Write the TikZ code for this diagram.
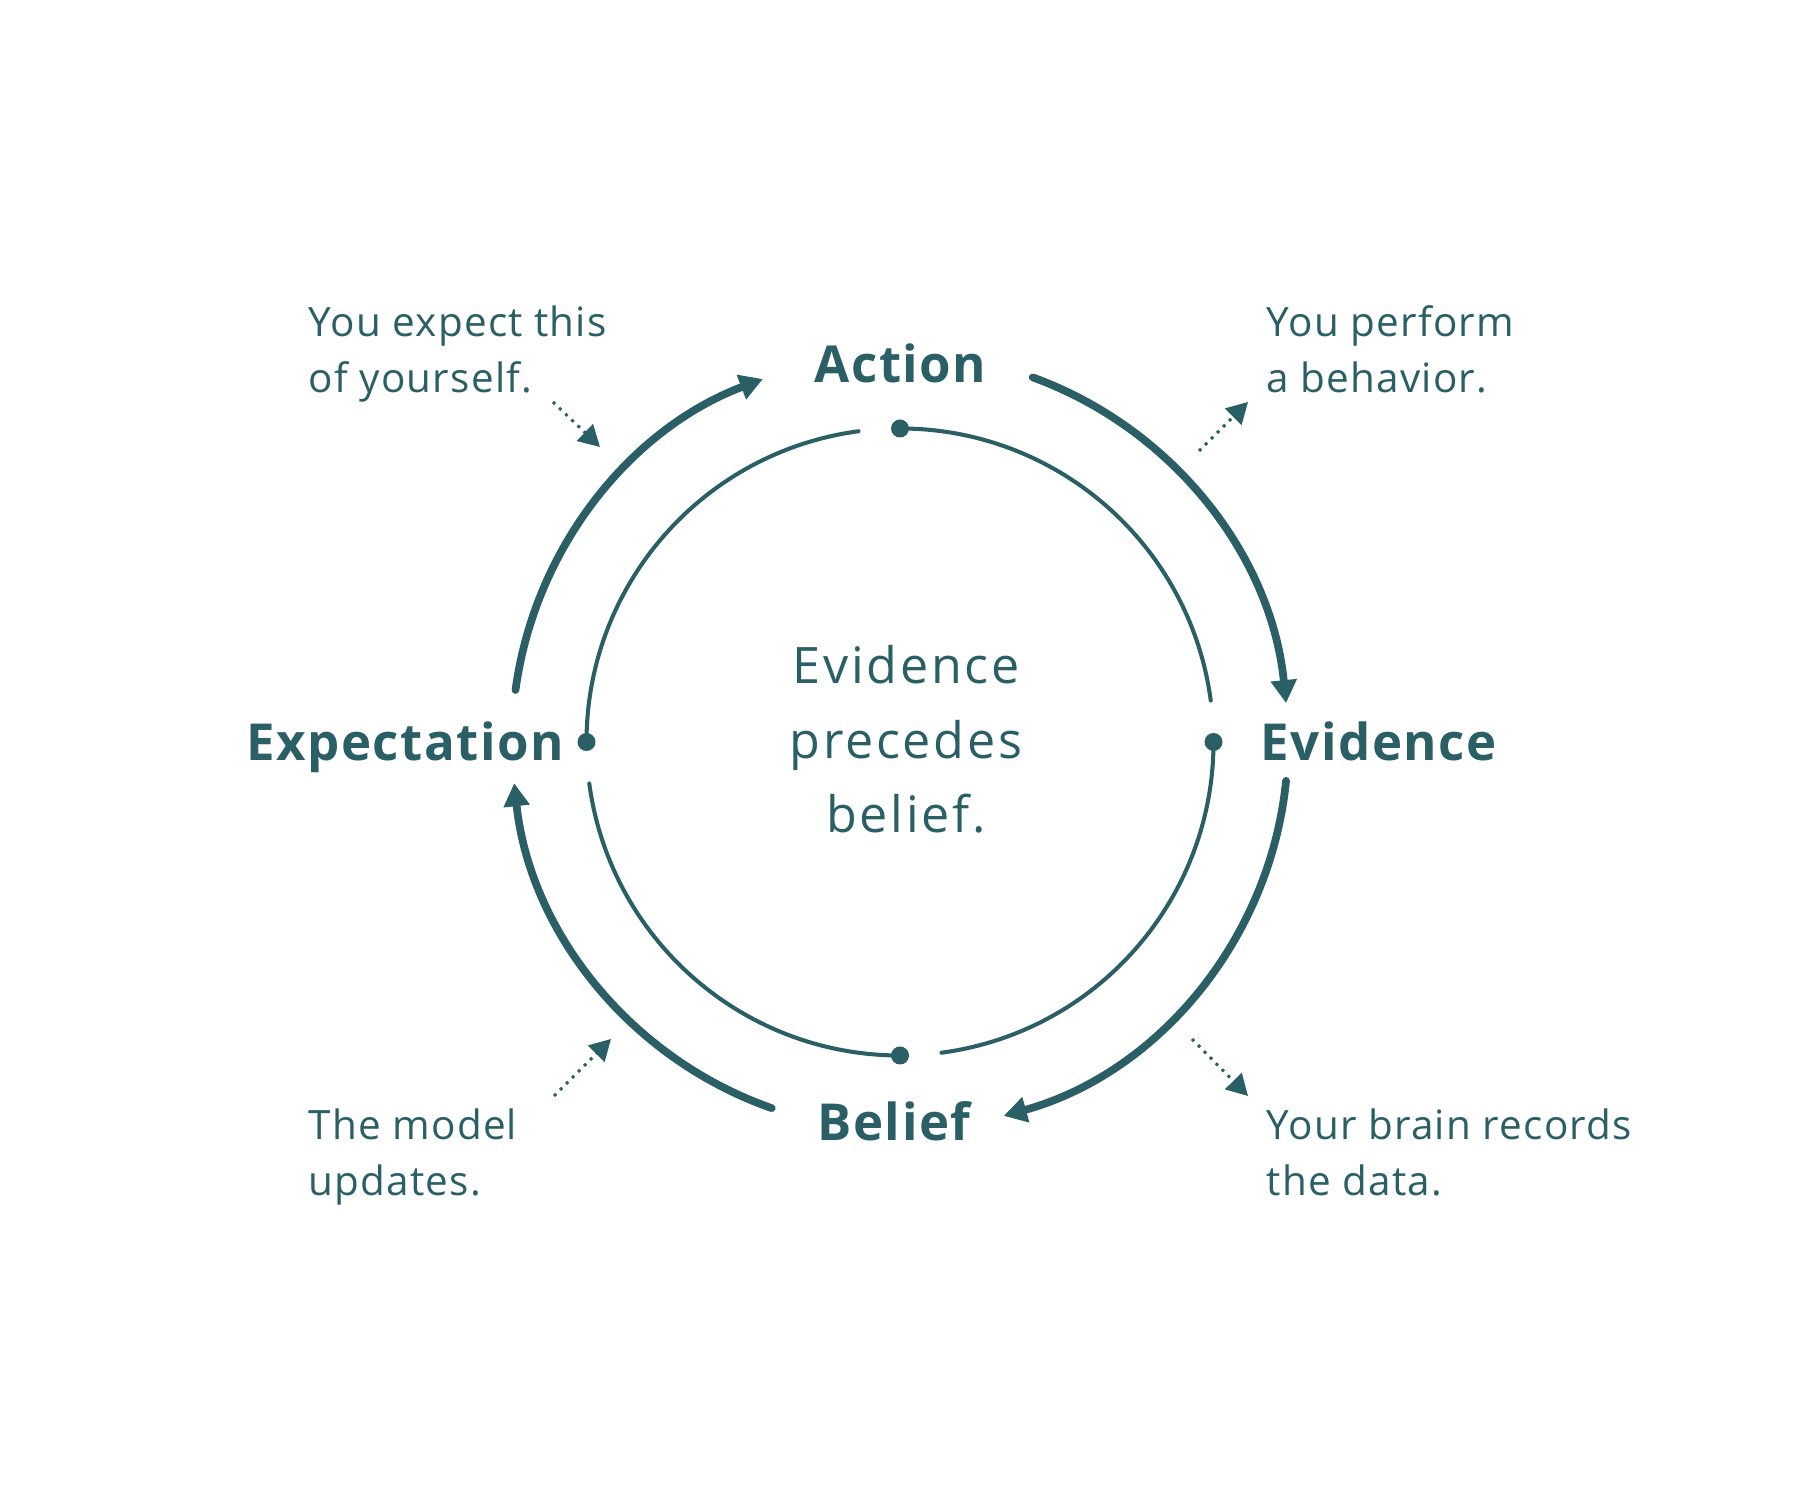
\documentclass[tikz,border=0pt]{standalone}
\usepackage{fontspec}
\setmainfont{Open Sans}
\newfontfamily\stagefont[LetterSpace=3]{Open Sans}
\newfontfamily\mottofont[LetterSpace=5.5]{Open Sans}
\newfontfamily\notefont[LetterSpace=3]{Open Sans}
\usetikzlibrary{arrows.meta,calc}
\definecolor{loopteal}{HTML}{2A5F66}

\begin{document}
\begin{tikzpicture}[x=1mm,y=1mm,line cap=round,loopteal]
\tikzstyle{stage}=[font=\stagefont\bfseries\fontsize{14.5pt}{17pt}\selectfont,anchor=base,inner sep=0pt]
\tikzstyle{note}=[font=\notefont\fontsize{11.5pt}{16.2pt}\selectfont,align=left,anchor=base west,inner sep=0pt]
\tikzstyle{loop arc}=[line width=2.2pt,-{Triangle[width=2.5mm,length=2.3mm]}]
\tikzstyle{inner arc}=[line width=1.15pt]
\tikzstyle{hint}=[line width=0.3mm,line cap=butt,dash pattern=on 0.3mm off 0.55mm,-{Triangle[width=2.3mm,length=2.1mm]}]

\fill[white] (0,0) rectangle (180,150);
\useasboundingbox (0,0) rectangle (180,150);
\coordinate (c) at (90,75.8);

\node (action)	[stage] at (90.05,111.7)	{Action};
\node (evidence)	[stage] at (137.85,73.9)	{Evidence};
\node (belief)	[stage] at (89.4,35.9)		{Belief};
\node (expect)	[stage] at (40.5,73.9)		{Expectation};

\node (motto) [font=\mottofont\fontsize{14.3pt}{21.3pt}\selectfont,align=center,anchor=base,inner sep=0pt]
	at (90.6,66.7) {Evidence\\precedes\\belief.};

\node (expectnote)	[note] at (30.8,110.7)	{You expect this\\of yourself.};
\node (performnote)	[note] at (126.6,110.7)	{You perform\\a behavior.};
\node (updatenote)	[note] at (30.8,30.4)	{The model\\updates.};
\node (recordnote)	[note] at (126.6,30.4)	{Your brain records\\the data.};

\foreach \a in {90,0,-90,180} {
	\fill ($(c)+(\a:31.35mm)$) circle[radius=0.9mm];
	\draw[inner arc] ($(c)+(\a:31.35mm)$) arc[start angle=\a, delta angle=-82.4, radius=31.35mm];
}

\foreach \s/\e in {70/5.75, -5.75/-74.5, -109.3/-173.9, 172.3/110.7}
	\draw[loop arc] ($(c)+(\s:38.8mm)$) arc[start angle=\s, end angle=\e, radius=38.8mm];

\coordinate (expecthint) at (55.3,109.8);	\coordinate (expecttip) at (60.0,105.3);
\coordinate (performhint) at (119.9,104.9);	\coordinate (performtip) at (124.8,109.8);
\coordinate (updatehint) at (55.4,40.4);	\coordinate (updatetip) at (61.1,46.1);
\coordinate (recordhint) at (119.2,46.1);	\coordinate (recordtip) at (124.8,40.4);

\draw[hint] (expecthint) -- (expecttip);
\draw[hint] (performhint) -- (performtip);
\draw[hint] (updatehint) -- (updatetip);
\draw[hint] (recordhint) -- (recordtip);

\end{tikzpicture}
\end{document}
